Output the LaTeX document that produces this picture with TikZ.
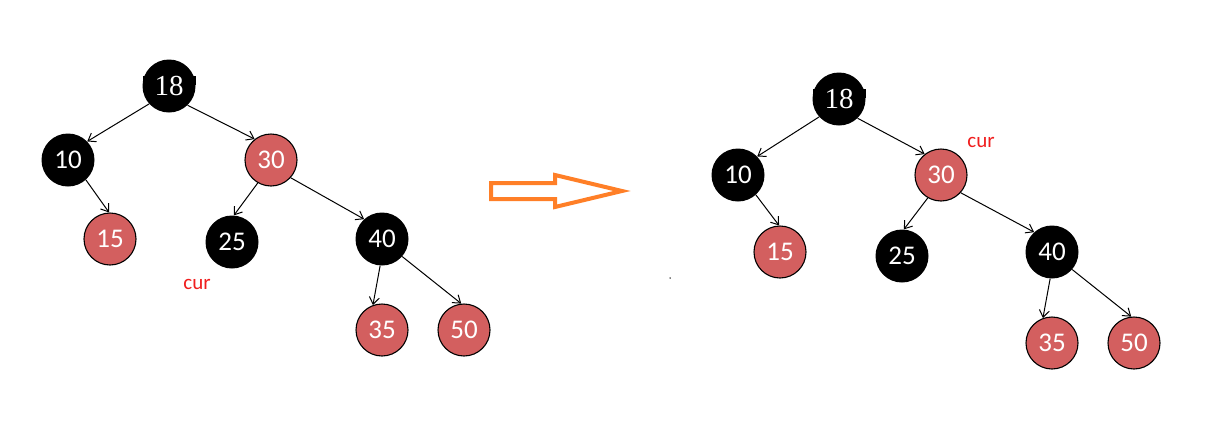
\documentclass[tikz,border=0pt]{standalone}
\usepackage{fontspec}
\setmainfont{Carlito}
\newfontfamily\rootfont{Liberation Serif}
\usetikzlibrary{arrows.meta}
\definecolor{rbred}{HTML}{D35F5F}
\definecolor{arrorange}{HTML}{FF7F27}
\definecolor{curred}{HTML}{F01E1E}
\tikzset{
  bnode/.style={circle, fill=black, text=white, minimum size=53pt, inner sep=0pt, font=\fontsize{27pt}{29pt}\selectfont},
  rootnode/.style={bnode, font=\rootfont\fontsize{29pt}{31pt}\selectfont},
  rnode/.style={circle, fill=rbred, draw=black, line width=1.1pt, text=white, minimum size=52pt, inner sep=0pt, font=\fontsize{27pt}{29pt}\selectfont},
  edge/.style={-{Straight Barb[length=7pt,width=10pt]}, line width=1pt},
  curlabel/.style={text=curred, font=\fontsize{21pt}{23pt}\selectfont},
  tick/.style={fill=black}
}
\begin{document}
\begin{tikzpicture}[x=1pt,y=-1pt]
\useasboundingbox (0,0) rectangle (1213,421);
% left tree
\fill[tick] (143,76) rectangle (196,85);
\node[rootnode] (a18) at (169,86) {18};
\node[bnode] (a10) at (68,160) {10};
\node[rnode] (a30) at (271,160) {30};
\node[rnode] (a15) at (110,239) {15};
\node[bnode] (a25) at (232,242) {25};
\node[bnode] (a40) at (382,239) {40};
\node[rnode] (a35) at (382,330) {35};
\node[rnode] (a50) at (464,330) {50};
\node[curlabel] (acur) at (197,284) {cur};
\draw[edge] (a18.-138) -- (a10.44);
\draw[edge] (a18.-46) -- (a30.128);
\draw[edge] (a10.-48) -- (a15.92);
\draw[edge] (a30.-120) -- (a25.86);
\draw[edge] (a30.-42) -- (a40.132);
\draw[edge] (a40.-94) -- (a35.110);
\draw[edge] (a40.-41) -- (a50.96);
% arrow
\draw[arrorange, line width=4pt, line join=miter]
  (491,183) -- (555,183) -- (555,175) -- (622,191) -- (555,207) -- (555,199) -- (491,199) -- cycle;
\node[circle, fill=black, inner sep=0pt, minimum size=1.5pt] (dot) at (670,278) {};
% right tree
\fill[tick] (813,89) rectangle (866,98);
\node[rootnode] (b18) at (839,99) {18};
\node[bnode] (b10) at (738,175) {10};
\node[rnode] (b30) at (941,175) {30};
\node[rnode] (b15) at (780,252) {15};
\node[bnode] (b25) at (902,256) {25};
\node[bnode] (b40) at (1052,252) {40};
\node[rnode] (b35) at (1052,343) {35};
\node[rnode] (b50) at (1134,343) {50};
\node[curlabel] (bcur) at (981,142) {cur};
\draw[edge] (b18.-138) -- (b10.44);
\draw[edge] (b18.-46) -- (b30.128);
\draw[edge] (b10.-48) -- (b15.92);
\draw[edge] (b30.-120) -- (b25.86);
\draw[edge] (b30.-42) -- (b40.132);
\draw[edge] (b40.-94) -- (b35.110);
\draw[edge] (b40.-41) -- (b50.96);
\end{tikzpicture}
\end{document}
